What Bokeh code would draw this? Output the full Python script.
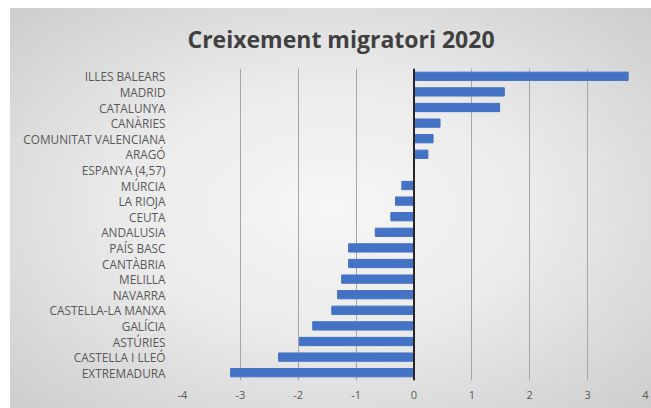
from bokeh.plotting import figure
from bokeh.models import ColumnDataSource, Span, FixedTicker
from bokeh.embed import file_html
from bokeh.resources import INLINE

regions = ["ILLES BALEARS", "MADRID", "CATALUNYA", "CANÀRIES", "COMUNITAT VALENCIANA",
           "ARAGÓ", "ESPANYA (4,57)", "MÚRCIA", "LA RIOJA", "CEUTA", "ANDALUSIA",
           "PAÍS BASC", "CANTÀBRIA", "MELILLA", "NAVARRA", "CASTELLA-LA MANXA",
           "GALÍCIA", "ASTÚRIES", "CASTELLA I LLEÓ", "EXTREMADURA"]
growth = [3.70, 1.56, 1.48, 0.45, 0.33, 0.24, 0.0, -0.21, -0.32, -0.40, -0.67,
          -1.13, -1.13, -1.25, -1.32, -1.42, -1.75, -1.98, -2.34, -3.17]
x_ticks = [-4, -3, -2, -1, 0, 1, 2, 3, 4]

src = ColumnDataSource(dict(region=regions, growth=growth))

p = figure(width=651, height=408, y_range=list(reversed(regions)), x_range=(-4, 4),
           output_backend="svg", toolbar_location=None,
           min_border_left=182, min_border_right=6, min_border_top=68, min_border_bottom=28)
p.styles = {
    "background-color": "#ffffff",
    "background-image": "radial-gradient(ellipse at center, #f6f6f6 0%, #ebebeb 45%, #cdcdcd 100%)",
    "background-size": "calc(100% - 10px) calc(100% - 8px)",
    "background-position": "10px 8px",
    "background-repeat": "no-repeat",
}
p.border_fill_color = None
p.background_fill_color = None
p.outline_line_color = None

p.title.text = "Creixement migratori 2020"
p.title.align = "left"
p.title.offset = 5
p.title.text_font = "Open Sans"
p.title.text_font_size = "23px"
p.title.text_font_style = "bold"
p.title.text_color = "#404040"
p.title.standoff = 28

p.hbar(y="region", right="growth", left=0, height=0.53, source=src, color="#4472C4")

p.add_layout(Span(location=0, dimension="height", line_color="#262626", line_width=2))

p.xaxis.ticker = FixedTicker(ticks=x_ticks)
p.xaxis.major_label_overrides = {t: str(t) for t in x_ticks}
p.xgrid.ticker = FixedTicker(ticks=x_ticks)
p.xgrid.grid_line_color = "#a6a6a6"
p.ygrid.grid_line_color = None
for ax in (p.xaxis[0], p.yaxis[0]):
    ax.axis_line_color = None
    ax.major_tick_line_color = None
    ax.minor_tick_line_color = None
    ax.major_label_text_font = "Open Sans"
    ax.major_label_text_color = "#595959"
p.yaxis.major_label_text_font_size = "11.8px"
p.xaxis.major_label_text_font_size = "11px"
p.yaxis.major_label_standoff = 11
p.xaxis.major_label_standoff = 4
p.y_range.range_padding = 0

open("out.html", "w").write(file_html(p, INLINE))
